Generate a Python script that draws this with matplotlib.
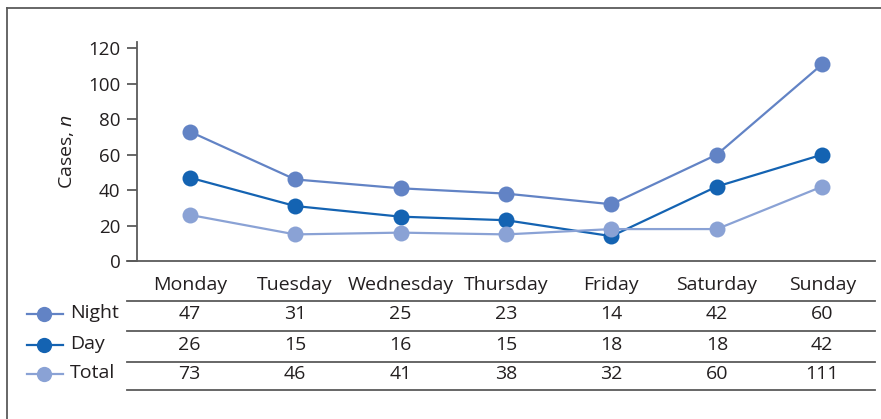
import matplotlib
matplotlib.use("Agg")
import matplotlib.pyplot as plt
from matplotlib import transforms
from matplotlib.lines import Line2D

# Weekly case counts by shift
days = ["Monday", "Tuesday", "Wednesday", "Thursday", "Friday", "Saturday", "Sunday"]
night = [47, 31, 25, 23, 14, 42, 60]
day = [26, 15, 16, 15, 18, 18, 42]
total = [73, 46, 41, 38, 32, 60, 111]

row_names = ["Night", "Day", "Total"]
row_values = [night, day, total]

c_medium = "#6283c5"
c_dark = "#1463b2"
c_light = "#8aa2d5"
legend_colors = [c_medium, c_dark, c_light]
text_color = "#231f20"
rule_color = "#5a5a5a"
fs = 14

plt.rcParams["font.family"] = ["Open Sans", "DejaVu Sans"]
plt.rcParams["mathtext.fontset"] = "custom"
plt.rcParams["mathtext.rm"] = "Open Sans"
plt.rcParams["mathtext.it"] = "Open Sans:italic"

W, H = 881, 419
fig = plt.figure(figsize=(W / 100, H / 100), dpi=100)

def fx(px):
    return px / W

def fy(py):
    return 1 - py / H

ax = fig.add_axes([fx(137), fy(261), fx(875) - fx(137), fy(42) - fy(261)])
x = list(range(len(days)))

for vals, col in [(total, c_medium), (night, c_dark), (day, c_light)]:
    ax.plot(x, vals, color=col, lw=1.6, marker="o", ms=11.5,
            markeredgewidth=0, zorder=3)

ax.set_xlim(-0.5, len(days) - 0.5)
ax.set_ylim(0, 123.5)
ax.set_yticks(range(0, 121, 20))
ax.set_xticks([])
for s in ["top", "right", "bottom"]:
    ax.spines[s].set_visible(False)
ax.spines["left"].set_color(rule_color)
ax.spines["left"].set_linewidth(1.3)
ax.tick_params(axis="y", length=7.5, width=1.3, color=rule_color,
               labelsize=13.5, labelcolor=text_color, pad=4.5)
ax.set_ylabel("Cases, $\\it{n}$", fontsize=fs, color=text_color, labelpad=9)
ax.patch.set_alpha(0)

# x-axis rule extending to the tick length
fig.add_artist(Line2D([fx(127), fx(875)], [fy(261), fy(261)],
                      color=rule_color, lw=1.3))

# data table beneath the axis
bt = transforms.blended_transform_factory(ax.transData, fig.transFigure)
for i, d in enumerate(days):
    fig.text(i, fy(285), d, transform=bt, ha="center", va="center",
             fontsize=fs, color=text_color)

row_y = [314, 345, 374]
rule_y = [301, 331, 362, 390]
for yy in rule_y:
    fig.add_artist(Line2D([fx(127), fx(875)], [fy(yy), fy(yy)],
                          color=rule_color, lw=1.3))

for name, vals, col, yy in zip(row_names, row_values, legend_colors, row_y):
    for i, v in enumerate(vals):
        fig.text(i, fy(yy), str(v), transform=bt, ha="center", va="center",
                 fontsize=fs, color=text_color)
    fig.add_artist(Line2D([fx(27), fx(63)], [fy(yy), fy(yy)], color=col, lw=1.6))
    fig.add_artist(Line2D([fx(44)], [fy(yy)], color=col, marker="o", ms=11,
                          markeredgewidth=0, ls="none"))
    fig.text(fx(70), fy(yy - 1), name, ha="left", va="center",
             fontsize=fs, color=text_color)

# outer frame (left and top edges)
fig.add_artist(Line2D([fx(7), fx(7)], [fy(8), 0], color=rule_color, lw=1.3))
fig.add_artist(Line2D([fx(7), 1], [fy(8), fy(8)], color=rule_color, lw=1.3))

fig.savefig("out.png", dpi=100)
